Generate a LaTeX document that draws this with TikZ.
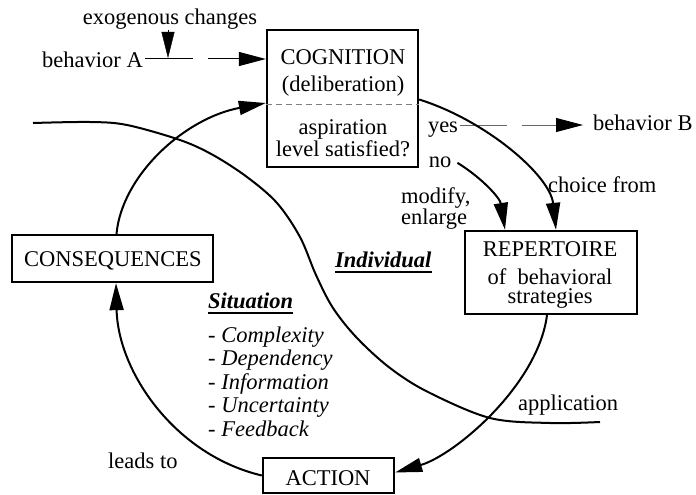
\documentclass[tikz,border=0pt]{standalone}
\usepackage{fontspec}
\setmainfont{Liberation Serif}
\newfontfamily\tnr{Liberation Serif}
\usetikzlibrary{arrows.meta}
\tikzset{
  box/.style={draw, line width=2.3pt, inner sep=0pt},
  txt/.style={inner sep=0pt, font=\tnr\fontsize{22.5}{21}\selectfont},
  itx/.style={txt, font=\tnr\fontsize{22.5}{21}\selectfont\itshape},
  bitx/.style={txt, font=\tnr\fontsize{22.5}{21}\selectfont\bfseries\itshape},
  bigtip/.style={-{Triangle[length=27pt,width=14pt,color=black]}},
  flow/.style={line width=2pt, bigtip},
  thinline/.style={line width=1pt},
  underl/.style={line width=1.7pt}
}
\begin{document}
\begin{tikzpicture}[x=1pt,y=-1pt]
\useasboundingbox (0,0) rectangle (696,495);

% boxes
\node[box, minimum width=151pt, minimum height=137pt] (cog) at (342.5,98.5) {};
\node[box, minimum width=172pt, minimum height=83pt] (rep) at (551,272.5) {};
\node[box, minimum width=131pt, minimum height=35pt] (act) at (328.5,475.5) {};
\node[box, minimum width=201pt, minimum height=47pt] (con) at (112.5,258.5) {};

% box texts
\node[txt, anchor=base] (cogt) at (343,65) {COGNITION};
\node[txt, anchor=base] (delib) at (343,92) {(deliberation)};
\node[txt, anchor=base] (asp) at (343,134) {aspiration};
\node[txt, anchor=base] (lvl) at (343,156) {level satisfied?};
\draw[gray, line width=1pt, dash pattern=on 6pt off 4pt] (cog.west |- 0,104) coordinate (dl) -- (cog.east |- dl);

\node[txt, anchor=base] (rept) at (550,256) {REPERTOIRE};
\node[txt, anchor=base] (ofb) at (550,284) {of~ behavioral};
\node[txt, anchor=base] (strat) at (550,303) {strategies};

\node[txt, anchor=base] (actt) at (328,485) {ACTION};
\node[txt, anchor=base] (cont) at (113,266) {CONSEQUENCES};

% free labels
\node[txt, anchor=base east] (bA) at (143,67) {behavior A};
\node[txt, anchor=base] (exo) at (170,25) {exogenous changes};
\node[txt, anchor=base] (yes) at (443,132) {yes};
\node[txt, anchor=base] (no) at (440,167) {no};
\node[txt, anchor=base west] (bB) at (593,130) {behavior B};
\node[txt, anchor=base west] (choice) at (548,192) {choice from};
\node[txt, anchor=base west] (modify) at (401,203) {modify,};
\node[txt, anchor=base west] (enlarge) at (401,224) {enlarge};
\node[txt, anchor=base west] (appl) at (518,410) {application};
\node[txt, anchor=base west] (leads) at (108,468) {leads to};

\node[bitx, anchor=base west] (indiv) at (335,267) {Individual};
\draw[underl] ([yshift=-5pt]indiv.base west) -- ([yshift=-5pt]indiv.base east);
\node[bitx, anchor=base west] (situ) at (208,308) {Situation};
\draw[underl] ([yshift=-5pt]situ.base west) -- ([yshift=-5pt]situ.base east);

\node[itx, anchor=base west] (l1) at (208,342) {- Complexity};
\node[itx, anchor=base west] (l2) at (208,365.5) {- Dependency};
\node[itx, anchor=base west] (l3) at (208,389) {- Information};
\node[itx, anchor=base west] (l4) at (208,412.5) {- Uncertainty};
\node[itx, anchor=base west] (l5) at (208,436) {- Feedback};

% behavior A -> cognition
\coordinate (gA1) at (193,59);
\coordinate (gA2) at (208,59);
\coordinate (exotip) at (168,58);
\draw[thinline] ([xshift=2pt]bA.east |- gA1) -- (gA1);
\draw[thinline, bigtip] (gA2) -- (cog.west |- gA2);
\draw[-{Triangle[length=26pt,width=13pt]}] (exo.south -| exotip) -- (exotip);

% yes -> behavior B
\coordinate (gB1) at (507,125);
\coordinate (gB2) at (522,125);
\draw[thinline, black!60] ([xshift=2pt]yes.east |- gB1) -- (gB1);
\draw[thinline, black!60, bigtip] (gB2) -- ([xshift=-10pt]bB.west |- gB2);

% choice from
\draw[flow] ([yshift=-1pt]cog.east) .. controls (485,120) and (550,175) .. ([xshift=5pt]rep.north);
% no -> modify
\draw[flow] ([xshift=6pt,yshift=-1pt]no.east) .. controls (482,178) and (500,198) .. ([xshift=-46pt]rep.north);
% application
\draw[flow] ([xshift=-4pt]rep.south) .. controls (538,385) and (455,455) .. ([yshift=3pt]act.east);
% leads to
\draw[flow] (act.west) .. controls (175,455) and (118,372) .. ([xshift=3.5pt]con.south);
% consequences -> cognition
\draw[flow] ([xshift=4pt]con.north) .. controls (122,175) and (185,118) .. ([yshift=-4.5pt]cog.west);

% individual / situation boundary
\draw[line width=2pt] plot[smooth, tension=0.55] coordinates {
 (33,123) (90,122) (127,125) (180,140) (213,155) (247,177) (277,203) (300,237)
 (316,275) (333,308) (357,338) (390,368) (428,392) (490,418) (550,423) (600,422)};
\end{tikzpicture}
\end{document}
